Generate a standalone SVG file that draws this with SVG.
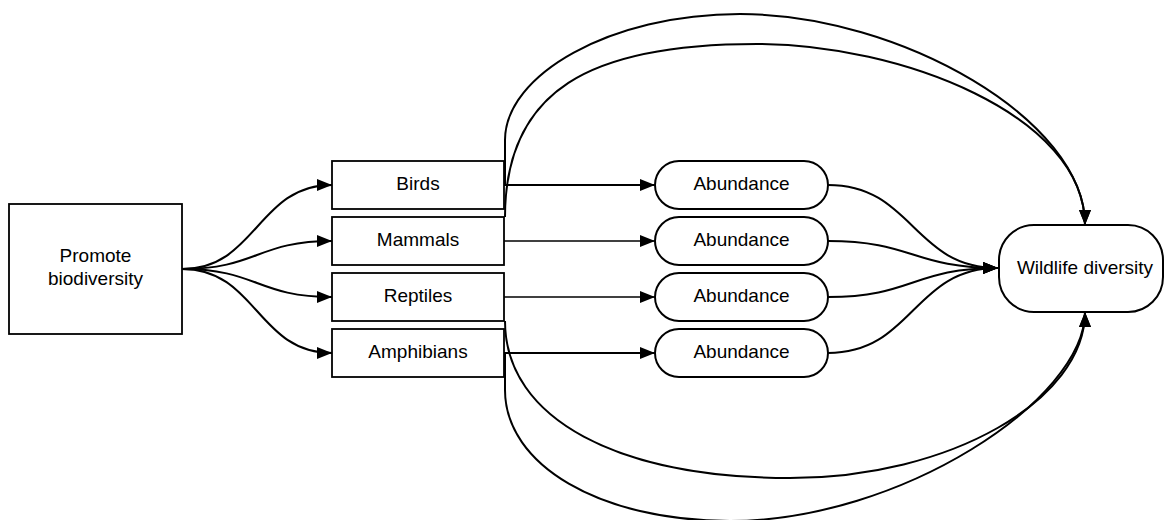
<svg xmlns="http://www.w3.org/2000/svg" width="1165" height="520" viewBox="0 0 1165 520">
<style>
.box{fill:#fff;stroke:#000;stroke-width:1.8}
.pill{fill:#fff;stroke:#000;stroke-width:2}
.lbl{font-family:"Liberation Sans",Arial,sans-serif;font-size:19px;fill:#000;text-anchor:middle}
.c{fill:none;stroke:#000;stroke-width:2}
.t{fill:none;stroke:#000;stroke-width:1.3}
</style>
<defs>
<marker id="arr" markerUnits="userSpaceOnUse" markerWidth="16" markerHeight="14" refX="15" refY="6.5" orient="auto">
<path d="M0,0.5 L15,6.5 L0,12.5 z" fill="#000"/>
</marker>
</defs>
<rect width="1165" height="520" fill="#fff"/>
<g id="connectors">
<path class="c" d="M182,269 C257,269 257,185 332,185" marker-end="url(#arr)"/>
<path class="c" d="M182,269 C257,269 257,241 332,241" marker-end="url(#arr)"/>
<path class="c" d="M182,269 C257,269 257,297 332,297" marker-end="url(#arr)"/>
<path class="c" d="M182,269 C257,269 257,353 332,353" marker-end="url(#arr)"/>
<path class="c" d="M504,185 L655,185" marker-end="url(#arr)"/>
<path class="t" d="M504,241 L655,241" marker-end="url(#arr)"/>
<path class="t" d="M504,297 L655,297" marker-end="url(#arr)"/>
<path class="c" d="M504,353 L655,353" marker-end="url(#arr)"/>
<path class="c" d="M828,185 C913,185 913,268 998,268" marker-end="url(#arr)"/>
<path class="c" d="M828,241 C913,241 913,268 998,268" marker-end="url(#arr)"/>
<path class="c" d="M828,297 C913,297 913,268 998,268" marker-end="url(#arr)"/>
<path class="c" d="M828,353 C913,353 913,268 998,268" marker-end="url(#arr)"/>
<path class="c" d="M505,185 L505,140 C505,75 610,14 740,14 C900,14 1085,120 1085,225" marker-end="url(#arr)"/>
<path class="c" d="M505,217 C505,90 590,44 757,44 C900,44 1085,115 1085,225" marker-end="url(#arr)"/>
<path class="c" d="M505,321 C505,420 620,478 790,478 C950,478 1085,400 1085,312" marker-end="url(#arr)"/>
<path class="c" d="M505,353 L505,390 C505,465 600,521 730,521 C900,521 1085,400 1085,312" marker-end="url(#arr)"/>
</g>
<g id="promote">
<rect class="box" x="9" y="204" width="173" height="130"/>
<text class="lbl" x="95.5" y="262">Promote</text>
<text class="lbl" x="95.5" y="284.5">biodiversity</text>
</g>
<g id="birds">
<rect class="box" x="332" y="161" width="172" height="48"/>
<text class="lbl" x="418" y="189.5">Birds</text>
</g>
<g id="mammals">
<rect class="box" x="332" y="217" width="172" height="48"/>
<text class="lbl" x="418" y="245.5">Mammals</text>
</g>
<g id="reptiles">
<rect class="box" x="332" y="273" width="172" height="48"/>
<text class="lbl" x="418" y="301.5">Reptiles</text>
</g>
<g id="amphibians">
<rect class="box" x="332" y="329" width="172" height="48"/>
<text class="lbl" x="418" y="357.5">Amphibians</text>
</g>
<g id="abundance1">
<rect class="pill" x="655" y="161" width="173" height="48" rx="24" ry="24"/>
<text class="lbl" x="741.5" y="189.5">Abundance</text>
</g>
<g id="abundance2">
<rect class="pill" x="655" y="217" width="173" height="48" rx="24" ry="24"/>
<text class="lbl" x="741.5" y="245.5">Abundance</text>
</g>
<g id="abundance3">
<rect class="pill" x="655" y="273" width="173" height="48" rx="24" ry="24"/>
<text class="lbl" x="741.5" y="301.5">Abundance</text>
</g>
<g id="abundance4">
<rect class="pill" x="655" y="329" width="173" height="48" rx="24" ry="24"/>
<text class="lbl" x="741.5" y="357.5">Abundance</text>
</g>
<g id="wildlife">
<rect class="pill" x="999" y="225" width="164" height="87" rx="35" ry="35"/>
<text class="lbl" x="1085" y="273.5">Wildlife diversity</text>
</g>
</svg>
